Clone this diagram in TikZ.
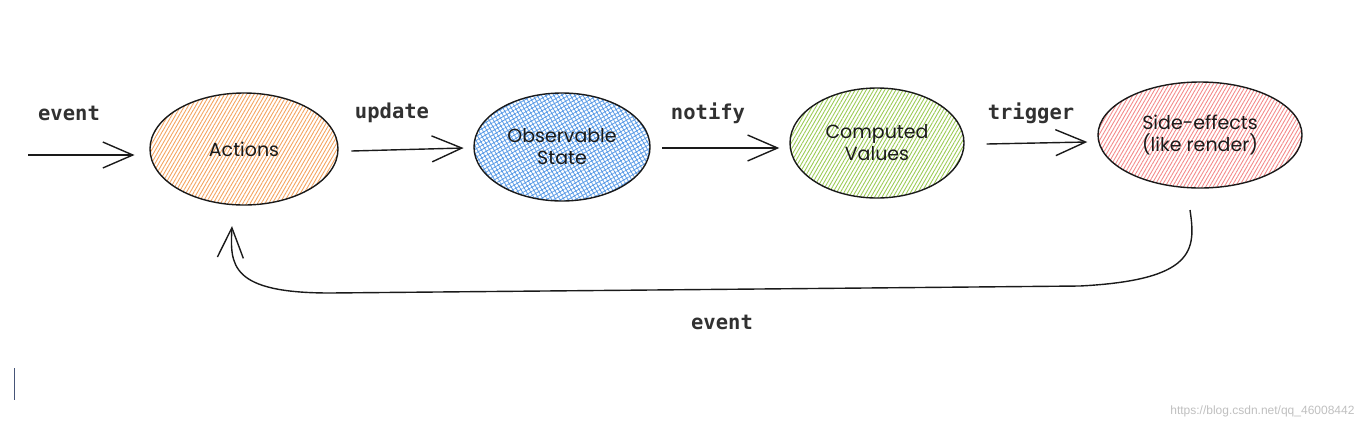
\documentclass[tikz,border=0pt]{standalone}
\usepackage{fontspec}
\setmainfont{Poppins}
\newfontfamily\labelfont{DejaVu Sans Mono}
\newfontfamily\wmfont{Liberation Sans}
\usetikzlibrary{shapes.geometric,arrows.meta,patterns.meta,calc}
\definecolor{cOrange}{HTML}{F4A460}
\definecolor{cBlue}{HTML}{5A9BE6}
\definecolor{cGreen}{HTML}{9CCB55}
\definecolor{cRed}{HTML}{F48A8A}
\definecolor{ink}{HTML}{1A1A1A}
\tikzset{
  blob/.style={ellipse, draw=ink, line width=1.4pt, inner sep=0pt,
    font=\fontsize{19}{22}\selectfont, align=center, text=ink},
  hatchO/.style={pattern={Lines[angle=60,distance=3.2pt,line width=0.9pt]}, pattern color=cOrange},
  hatchB/.style={pattern={Hatch[angle=30,distance=3.6pt,line width=0.8pt]}, pattern color=cBlue},
  hatchG/.style={pattern={Lines[angle=60,distance=3.2pt,line width=0.9pt]}, pattern color=cGreen},
  hatchR/.style={pattern={Lines[angle=60,distance=3.2pt,line width=0.9pt]}, pattern color=cRed},
  arr/.style={draw=ink, line width=1.4pt, -{Straight Barb[length=30pt,width=26pt,line width=1.4pt]}},
  lbl/.style={font=\labelfont\bfseries\fontsize{20.5}{23}\selectfont, text=ink!90, inner sep=0pt}
}
\begin{document}
\begin{tikzpicture}[x=1pt,y=-1pt]
\useasboundingbox (0,0) rectangle (1365,432);
% nodes
\node[blob, hatchO, minimum width=188pt, minimum height=112pt] (act) at (244,149) {Actions};
\node[blob, hatchB, minimum width=176pt, minimum height=108pt] (obs) at (562,147) {Observable\\State};
\node[blob, hatchG, minimum width=174pt, minimum height=110pt] (comp) at (877,143) {Computed\\Values};
\node[blob, hatchR, minimum width=204pt, minimum height=106pt] (se) at (1200,135) {Side-effects\\(like render)};
% labels
\node[lbl] (l1) at (69,113) {event};
\node[lbl] (l2) at (392,113) {update};
\node[lbl] (l3) at (708,113) {notify};
\node[lbl] (l4) at (1031,113) {trigger};
\node[lbl] (l5) at (722,322) {event};
% connectors
\coordinate (in) at (28,155);
\draw[arr] (in) -- ($(act.west)+(-15,6)$);
\draw[arr] ($(act.east)+(13,2)$) -- ($(obs.west)+(-10,1)$);
\draw[arr] ($(obs.east)+(12,1)$) -- ($(comp.west)+(-10,5)$);
\draw[arr] ($(comp.east)+(22,1)$) -- ($(se.west)+(-10,7)$);
\coordinate (fbs) at (1190,210);
\coordinate (fbe) at (232,226);
\draw[arr] (fbs) .. controls (1196,250) and (1195,280) .. (1080,286)
  -- (330,293) .. controls (230,293) and (230,265) .. (fbe);
% watermark and cursor
\node[font=\wmfont\fontsize{12}{14}\selectfont, text=black!25, anchor=east] (wm) at (1358,411) {https://blog.csdn.net/qq\_46008442};
\draw[color={rgb,255:red,70;green,85;blue,120}, line width=1pt] (14,368) -- (14,400);
\end{tikzpicture}
\end{document}
